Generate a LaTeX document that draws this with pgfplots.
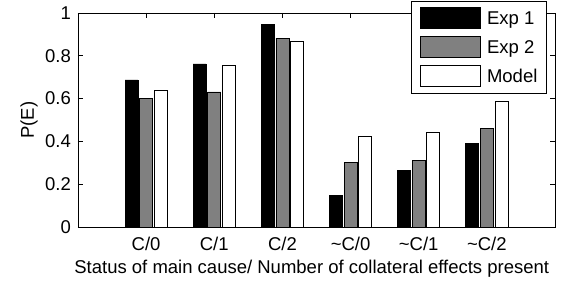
\documentclass[border=0pt]{standalone}
\usepackage{fontspec}
\setmainfont{Liberation Sans}
\usepackage{pgfplots}
\pgfplotsset{compat=1.18}
\begin{document}
\begin{tikzpicture}[font=\fontsize{18.5bp}{22bp}\selectfont]
\useasboundingbox (-78bp,-56bp) rectangle (486bp,227bp);
\begin{axis}[
  scale only axis,
  width=477bp, height=214bp,
  xmin=0, xmax=7, ymin=0, ymax=1,
  xtick={1,2,3,4,5,6},
  xticklabels={C/0,C/1,C/2,\textasciitilde C/0,\textasciitilde C/1,\textasciitilde C/2},
  ytick={0,0.2,0.4,0.6,0.8,1},
  /pgf/number format/assume math mode=true,
  axis line style={line width=0.9bp},
  major tick style={line width=0.9bp, black},
  major tick length=5bp,
  xticklabel style={anchor=base, yshift=-23bp, inner sep=0pt},
  yticklabel style={anchor=east, xshift=-7bp, inner sep=0pt},
  xlabel={Status of main cause/ Number of collateral effects present},
  xlabel style={at={(axis description cs:0.49,0)}, anchor=base, yshift=-46bp, inner sep=0pt},
  ylabel={P(E)},
  ylabel style={at={(axis description cs:-0.0839,0.5)}, anchor=south, inner sep=0pt},
  legend style={at={(rel axis cs:0.983,1.056)}, anchor=north east, draw=black, line width=0.9bp,
    inner xsep=9bp, inner ysep=6bp, row sep=7bp, column sep=6bp,
    font=\fontsize{18.5bp}{22bp}\selectfont,
    nodes={inner sep=0pt}},
  legend cell align=left,
  legend image code/.code={\draw[#1, line width=0.9bp] (0bp,-10.5bp) rectangle (60bp,10.5bp);},
]
\addplot[ybar, bar width=0.19, bar shift=-0.215, fill=black, draw=black, line width=0.8bp]
  coordinates {(1,0.687) (2,0.762) (3,0.947) (4,0.146) (5,0.263) (6,0.391)};
\addplot[ybar, bar width=0.19, bar shift=0, fill={rgb,255:red,128;green,128;blue,128}, draw=black, line width=0.8bp]
  coordinates {(1,0.601) (2,0.631) (3,0.883) (4,0.302) (5,0.310) (6,0.461)};
\addplot[ybar, bar width=0.19, bar shift=0.215, fill=white, draw=black, line width=0.8bp]
  coordinates {(1,0.639) (2,0.754) (3,0.868) (4,0.425) (5,0.444) (6,0.587)};
\legend{Exp 1, Exp 2, Model}
\end{axis}
\end{tikzpicture}
\end{document}
